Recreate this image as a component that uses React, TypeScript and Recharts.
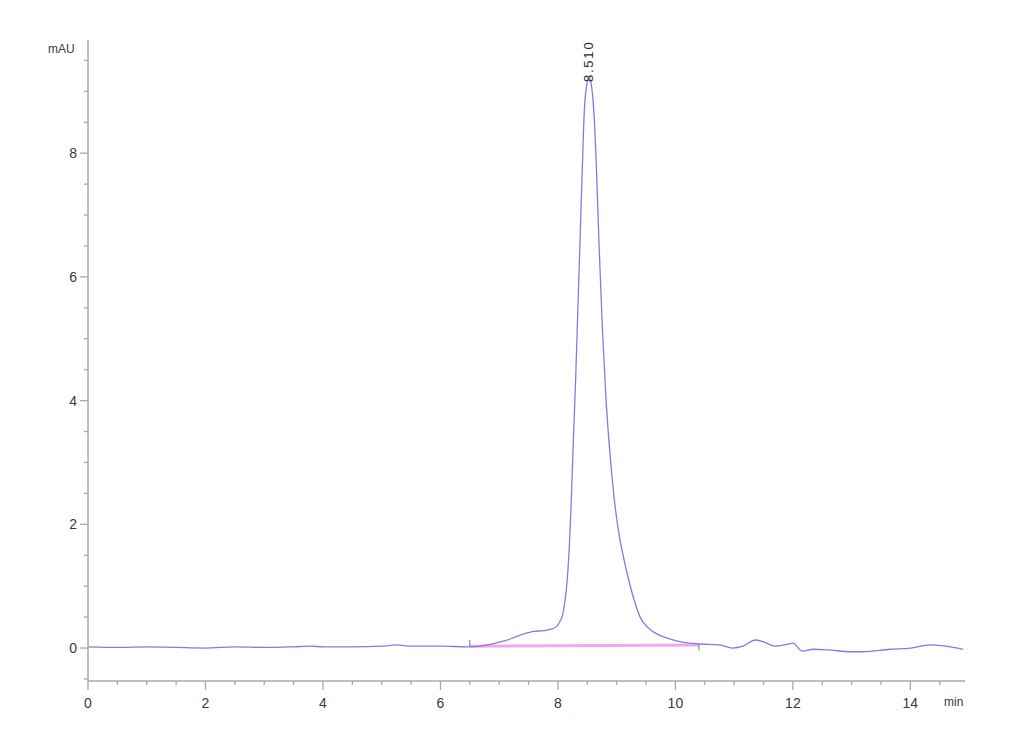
import React from 'react';
import { LineChart, Line, XAxis, YAxis, ReferenceLine, ReferenceDot } from 'recharts';

const times = [0, 0.5, 1.0, 1.5, 2.0, 2.5, 3.0, 3.5, 3.8, 4.0, 4.5, 5.0, 5.26, 5.5, 6.0, 6.5, 6.8, 7.02, 7.2, 7.36, 7.59, 7.75, 7.87, 7.98, 8.04, 8.07, 8.11, 8.14, 8.17, 8.2, 8.23, 8.26, 8.3, 8.34, 8.37, 8.41, 8.45, 8.49, 8.53, 8.57, 8.61, 8.65, 8.705, 8.76, 8.82, 8.89, 8.96, 9.03, 9.12, 9.2, 9.29, 9.4, 9.5, 9.57, 9.7, 9.86, 10.14, 10.43, 10.75, 10.97, 11.15, 11.36, 11.5, 11.7, 11.9, 12.0, 12.16, 12.35, 12.6, 12.98, 13.2, 13.66, 14.0, 14.34, 14.6, 14.9];
const absorbance = [0.02, 0.01, 0.02, 0.01, 0.0, 0.02, 0.01, 0.02, 0.03, 0.02, 0.02, 0.03, 0.05, 0.03, 0.03, 0.02, 0.05, 0.1, 0.15, 0.21, 0.27, 0.28, 0.3, 0.35, 0.44, 0.5, 0.7, 0.92, 1.25, 1.75, 2.45, 3.3, 4.3, 5.5, 6.4, 7.6, 8.7, 9.1, 9.23, 9.1, 8.7, 7.9, 6.4, 5.1, 4.0, 3.1, 2.4, 1.9, 1.45, 1.12, 0.8, 0.5, 0.36, 0.3, 0.22, 0.16, 0.09, 0.065, 0.05, 0.0, 0.03, 0.13, 0.1, 0.03, 0.06, 0.08, -0.05, -0.02, -0.03, -0.06, -0.06, -0.02, 0.0, 0.05, 0.03, -0.02];

const baselineTimes = [6.5, 10.4];
const baselineValues = [0.03, 0.05];

const peakTime = 8.51;
const peakHeight = 9.23;
const peakLabel = '8.510';

const xTicks = [0, 0.5, 1, 1.5, 2, 2.5, 3, 3.5, 4, 4.5, 5, 5.5, 6, 6.5, 7, 7.5, 8, 8.5, 9, 9.5, 10, 10.5, 11, 11.5, 12, 12.5, 13, 13.5, 14, 14.5];
const yTicks = [-0.5, 0, 0.5, 1, 1.5, 2, 2.5, 3, 3.5, 4, 4.5, 5, 5.5, 6, 6.5, 7, 7.5, 8, 8.5, 9, 9.5];
const majorStep = 2;

const trace = times.map((t, i) => ({ t, v: absorbance[i] }));
const baseline = baselineTimes.map((t, i) => ({ t, v: baselineValues[i] }));

const AXIS = '#a8a8a8';
const TEXT = '#3a3a3a';
const FONT = 'Liberation Sans, Arial, sans-serif';

const isMajor = (v: number) => Math.abs(v % majorStep) < 1e-6;

const YTick = (props: any) => {
  const { x, y, payload } = props;
  const v = payload.value;
  const major = isMajor(v);
  return (
    <g>
      <line x1={major ? x - 8 : x - 4} x2={x} y1={y} y2={y} stroke={AXIS} strokeWidth={1.3} />
      {major && (
        <text x={x - 11} y={y} dy={5} textAnchor="end" fontSize={14} fill={TEXT} fontFamily={FONT}>
          {v}
        </text>
      )}
    </g>
  );
};

const XTick = (props: any) => {
  const { x, y, payload } = props;
  const v = payload.value;
  const major = isMajor(v);
  return (
    <g>
      <line x1={x} x2={x} y1={y} y2={major ? y + 9 : y + 4} stroke={AXIS} strokeWidth={1.3} />
      {major && (
        <text x={x} y={y + 27} textAnchor="middle" fontSize={14} fill={TEXT} fontFamily={FONT}>
          {v}
        </text>
      )}
    </g>
  );
};

const PeakLabel = (props: any) => {
  const { viewBox } = props;
  const cx = viewBox.x + (viewBox.width || 0) / 2;
  const cy = viewBox.y + (viewBox.height || 0) / 2;
  const bx = cx + 5;
  const by = cy + 5;
  return (
    <text
      x={bx}
      y={by}
      transform={`rotate(-90 ${bx} ${by})`}
      fontSize={13}
      letterSpacing={1.8}
      fill="#2a2a2a"
      fontFamily={FONT}
      textAnchor="start"
    >
      {peakLabel}
    </text>
  );
};

export default function App() {
  return (
    <div style={{ position: 'absolute', left: 0, top: 0, width: 1030, height: 755, background: '#fff' }}>
      <LineChart width={1030} height={755} margin={{ top: 40, right: 65, bottom: 44, left: 48 }}>
        <XAxis
          dataKey="t"
          type="number"
          domain={[0, 14.93]}
          allowDataOverflow
          ticks={xTicks}
          interval={0}
          tick={<XTick />}
          tickLine={false}
          tickSize={0}
          tickMargin={0}
          height={30}
          axisLine={{ stroke: AXIS, strokeWidth: 1.5 }}
        />
        <YAxis
          type="number"
          domain={[-0.533, 9.83]}
          allowDataOverflow
          ticks={yTicks}
          interval={0}
          tick={<YTick />}
          tickLine={false}
          tickSize={0}
          tickMargin={0}
          width={40}
          axisLine={{ stroke: AXIS, strokeWidth: 1.5 }}
        />
        <Line
          data={baseline}
          dataKey="v"
          type="linear"
          stroke="#f4a6f0"
          strokeWidth={3}
          dot={false}
          isAnimationActive={false}
        />
        <ReferenceLine
          segment={[{ x: baselineTimes[0], y: baselineValues[0] }, { x: baselineTimes[0], y: baselineValues[0] + 0.1 }]}
          stroke="#777"
          strokeWidth={1}
        />
        <ReferenceLine
          segment={[{ x: baselineTimes[1], y: baselineValues[1] - 0.09 }, { x: baselineTimes[1], y: baselineValues[1] }]}
          stroke="#777"
          strokeWidth={1}
        />
        <Line
          data={trace}
          dataKey="v"
          type="monotone"
          stroke="#7d7de8"
          strokeWidth={1.3}
          dot={false}
          isAnimationActive={false}
        />
        <ReferenceDot x={peakTime} y={peakHeight} r={0} stroke="none" fill="none" label={<PeakLabel />} />
      </LineChart>
      <div style={{ position: 'absolute', left: 48, top: 42, fontSize: 12, color: TEXT, fontFamily: FONT }}>mAU</div>
      <div style={{ position: 'absolute', left: 944, top: 695, fontSize: 12, color: TEXT, fontFamily: FONT, whiteSpace: 'nowrap' }}>min</div>
    </div>
  );
}
